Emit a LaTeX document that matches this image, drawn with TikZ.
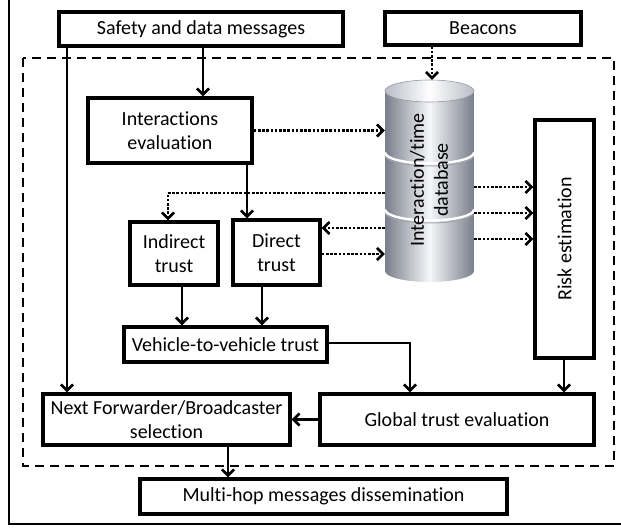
\documentclass[tikz,border=0pt]{standalone}
\usepackage{fontspec}
\setmainfont{Carlito}[Ligatures=NoCommon]
\usepackage{xcolor}
\definecolor{DbDark}{RGB}{120,126,138}
\definecolor{DbMid}{RGB}{185,189,198}
\definecolor{DbLight}{RGB}{246,247,249}
\usepackage{tikz}
\usetikzlibrary{arrows.meta}
\tikzstyle{Box}=[draw,line width=3.4pt,align=center,inner sep=1pt,
font=\fontsize{20}{24}\selectfont]
\tikzstyle{Edge}=[draw,line width=2.6pt,-{Straight Barb[length=6pt,width=12pt]}]
\tikzstyle{DotEdge}=[Edge,dash pattern=on 2.6pt off 1.6pt]
\tikzstyle{Frame}=[draw,line width=2.2pt]
\tikzstyle{Zone}=[draw,line width=2.6pt,dash pattern=on 9pt off 6pt]
\tikzstyle{DbText}=[font=\fontsize{20}{24}\selectfont,align=center,rotate=90]
\begin{document}
\begin{tikzpicture}[x=1pt,y=-1pt]
        \useasboundingbox(0,0)rectangle(621,529);
        \draw[Frame](9,-5)rectangle(640,524);
        \draw[Zone](23,58)rectangle(614,466);
        % database cylinder
        \node[minimum width=89pt,minimum height=202pt,inner sep=0pt](db)at(429.5,181){};
        \shade[left color=DbDark,right color=DbDark,middle color=DbLight]
            (385,91)--(385,271)arc[start angle=180,end angle=0,x radius=44.5,y radius=11]
            --(474,91)--cycle;
        \shade[left color=DbMid,right color=DbMid,middle color=white]
            (429.5,91)ellipse[x radius=44.5,y radius=11];
        \draw[DbDark!80,line width=.6pt](429.5,91)ellipse[x radius=44.5,y radius=11];
        \foreach \y in {155,212}{
            \draw[DbDark!70,line width=1pt](385,\y)arc[start angle=180,end angle=0,x radius=44.5,y radius=11];
            \draw[white,line width=2.4pt](385,\y-2.5)arc[start angle=180,end angle=0,x radius=44.5,y radius=11];
        }
        \node[DbText](dbtext)at(429,180){Interaction/time\\database};
        % boxes
        \node[Box,minimum width=284pt,minimum height=34pt](safety)at(201,29){Safety and data messages};
        \node[Box,minimum width=196pt,minimum height=33pt](beacons)at(483,28.5){Beacons};
        \node[Box,minimum width=164pt,minimum height=65pt](inter)at(170,130.5){Interactions\\evaluation};
        \node[Box,minimum width=88pt,minimum height=63pt](indirect)at(174,253.5){Indirect\\trust};
        \node[Box,minimum width=87pt,minimum height=65pt](direct)at(276.5,252.5){Direct\\trust};
        \node[Box,minimum width=203pt,minimum height=35pt,inner sep=0pt](v2v)at(225.5,344.5){Vehicle-to-vehicle trust};
        \node[Box,minimum width=59pt,minimum height=238pt](risk)at(564.5,239){};
        \node[DbText](risktext)at(risk.center){Risk estimation};
        \node[Box,minimum width=247pt,minimum height=51pt,inner sep=0pt](next)at(166.5,419.5){Next Forwarder/Broadcaster\\selection};
        \node[Box,minimum width=274pt,minimum height=51pt](global)at(457,419.5){Global trust evaluation};
        \node[Box,minimum width=367pt,minimum height=35pt](multi)at(323.5,496.5){Multi-hop messages dissemination};
        % connectors
        \coordinate(c1)at(67,0);
        \coordinate(c2)at(203,0);
        \coordinate(c3)at(247,0);
        \coordinate(c4)at(168,193);
        \coordinate(c5)at(182,0);
        \coordinate(c6)at(262,0);
        \coordinate(c7)at(410,343);
        \coordinate(c8)at(228,0);
        \coordinate(c9)at(432,0);
        \coordinate(c10)at(564,0);
        \draw[Edge](safety.south -| c1)--(next.north -| c1);
        \draw[Edge](safety.south -| c2)--(inter.north -| c2);
        \draw[Edge](inter.south -| c3)--(direct.north -| c3);
        \draw[DotEdge](inter.east)--(inter.east -| db.west);
        \draw[DotEdge](beacons.south -| c9)--(db.north -| c9);
        \draw[DotEdge](db.west |- c4)--(c4)--(indirect.north -| c4);
        \draw[DotEdge](db.west |- 0,228)--(direct.east |- 0,228);
        \draw[DotEdge](direct.east |- 0,254)--(db.west |- 0,254);
        \foreach \y in {187,213,239}
            \draw[DotEdge](db.east |- 0,\y)--(risk.west |- 0,\y);
        \draw[Edge](indirect.south -| c5)--(v2v.north -| c5);
        \draw[Edge](direct.south -| c6)--(v2v.north -| c6);
        \draw[Edge](v2v.east |- c7)--(c7)--(global.north -| c7);
        \draw[Edge](risk.south -| c10)--(global.north -| c10);
        \draw[Edge](global.west)--(next.east);
        \draw[Edge](next.south -| c8)--(multi.north -| c8);
    \end{tikzpicture}
\end{document}
